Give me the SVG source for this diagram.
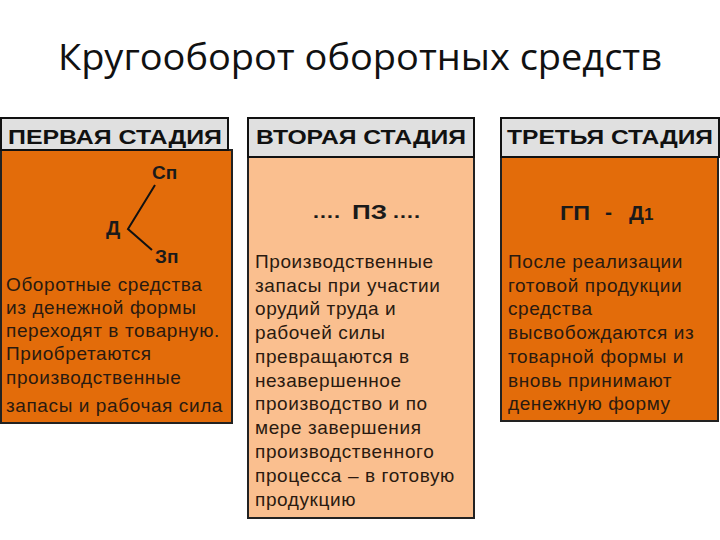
<svg xmlns="http://www.w3.org/2000/svg" width="720" height="540" viewBox="0 0 720 540">
<style>
.title{font-family:"Open Sans","Liberation Sans",sans-serif;font-size:36px;fill:#111}
.hdr{fill:#e0e0e0;stroke:#111;stroke-width:2}
.htx{font-family:"Liberation Sans",Arial,sans-serif;font-size:21px;font-weight:bold;fill:#111}
.b1{fill:#e36c0a;stroke:#222;stroke-width:2}
.b2{fill:#fabf8f;stroke:#222;stroke-width:2}
.tx{font-family:"Liberation Sans",Arial,sans-serif;font-size:19px;letter-spacing:0.6px;fill:#2a1a10}
.bd{font-family:"Liberation Sans",Arial,sans-serif;font-weight:bold;fill:#1a1a1a}
</style>
<rect width="720" height="540" fill="#fff"/>
<text class="title" x="58" y="70" textLength="604" lengthAdjust="spacingAndGlyphs">Кругооборот оборотных средств</text>

<g id="stage1">
<rect class="b1" x="1" y="150" width="231" height="273"/>
<rect class="hdr" x="1" y="118" width="227" height="32"/>
<text class="htx" x="8" y="144" textLength="214" lengthAdjust="spacingAndGlyphs">ПЕРВАЯ СТАДИЯ</text>
<text class="bd" x="152" y="179" font-size="19">Сп</text>
<text class="bd" x="106" y="235" font-size="20">Д</text>
<text class="bd" x="155" y="263" font-size="19">Зп</text>
<path d="M155,185 L128,229 L152,250" fill="none" stroke="#111" stroke-width="2"/>
<g class="tx">
<text x="6" y="291">Оборотные средства</text>
<text x="6" y="314">из денежной формы</text>
<text x="6" y="337">переходят в товарную.</text>
<text x="6" y="360">Приобретаются</text>
<text x="6" y="384">производственные</text>
<text x="6" y="412">запасы и рабочая сила</text>
</g>
</g>

<g id="stage2">
<rect class="b2" x="248" y="156" width="226" height="362"/>
<rect class="hdr" x="248" y="118" width="226" height="39"/>
<text class="htx" x="256" y="144" textLength="210" lengthAdjust="spacingAndGlyphs">ВТОРАЯ СТАДИЯ</text>
<text class="bd" x="312" y="218" font-size="18" textLength="28" lengthAdjust="spacingAndGlyphs">….</text>
<text class="bd" x="352" y="219" font-size="21" textLength="35" lengthAdjust="spacingAndGlyphs">ПЗ</text>
<text class="bd" x="392" y="218" font-size="18" textLength="28" lengthAdjust="spacingAndGlyphs">….</text>
<g class="tx">
<text x="255" y="268">Производственные</text>
<text x="255" y="292">запасы при участии</text>
<text x="255" y="315">орудий труда и</text>
<text x="255" y="339">рабочей силы</text>
<text x="255" y="363">превращаются в</text>
<text x="255" y="387">незавершенное</text>
<text x="255" y="410">производство и по</text>
<text x="255" y="434">мере завершения</text>
<text x="255" y="458">производственного</text>
<text x="255" y="482">процесса – в готовую</text>
<text x="255" y="506">продукцию</text>
</g>
</g>

<g id="stage3">
<rect class="b1" x="501" y="156" width="217" height="265"/>
<rect class="hdr" x="501" y="118" width="218" height="39"/>
<text class="htx" x="507" y="144" textLength="206" lengthAdjust="spacingAndGlyphs">ТРЕТЬЯ СТАДИЯ</text>
<text class="bd" x="560" y="220" font-size="21" textLength="30" lengthAdjust="spacingAndGlyphs">ГП</text>
<text class="bd" x="605" y="219" font-size="21">-</text>
<text class="bd" x="629" y="220" font-size="21">Д<tspan font-size="17">1</tspan></text>
<g class="tx">
<text x="508" y="268">После реализации</text>
<text x="508" y="292">готовой продукции</text>
<text x="508" y="315">средства</text>
<text x="508" y="339">высвобождаются из</text>
<text x="508" y="363">товарной формы и</text>
<text x="508" y="387">вновь принимают</text>
<text x="508" y="410">денежную форму</text>
</g>
</g>
</svg>
